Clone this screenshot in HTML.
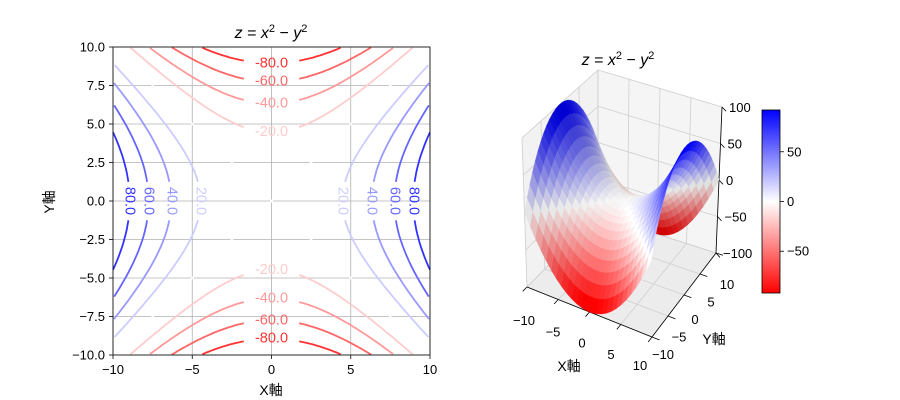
<!DOCTYPE html>
<html><head><meta charset="utf-8">
<style>
body{margin:0;background:#fff;}
svg{display:block;font-family:"Liberation Sans","Noto Sans CJK JP",sans-serif;}
</style></head>
<body>
<svg id="chart" width="900" height="400" viewBox="0 0 900 400">
<rect width="900" height="400" fill="#fff"/>
<g id="left"></g>
<g id="right"></g>
<g id="cbar"></g>
</svg>
<script>
// ---- data ----
const levels = [-80, -60, -40, -20, 0, 20, 40, 60, 80];
const xTicks2d = [-10, -5, 0, 5, 10];
const yTicks2d = [-10, -7.5, -5, -2.5, 0, 2.5, 5, 7.5, 10];
const xTicks3d = [-10, -5, 0, 5, 10];
const yTicks3d = [-10, -5, 0, 5, 10];
const zTicks3d = [-100, -50, 0, 50, 100];
const cbarTicks = [-50, 0, 50];
const gridN = 26;

const NS = "http://www.w3.org/2000/svg";
function mk(parent, tag, attrs, text) {
  const e = document.createElementNS(NS, tag);
  for (const k in attrs) e.setAttribute(k, attrs[k]);
  if (text !== undefined) e.textContent = text;
  parent.appendChild(e);
  return e;
}
function cmap(t) { // bwr reversed: 0 red, 0.5 white, 1 blue
  t = Math.max(0, Math.min(1, t));
  let r, g, b;
  if (t < 0.5) { r = 1; g = 2 * t; b = 2 * t; } else { r = 2 * (1 - t); g = 2 * (1 - t); b = 1; }
  return [r, g, b];
}
function rgb(c, s) { s = s || 1; return "rgb(" + c.map(v => Math.round(Math.min(1, v * s) * 255)).join(",") + ")"; }
function fmt(v) { return (v < 0 ? "\u2212" : "") + Math.abs(v); }

// ---- left: contour plot ----
const L = document.getElementById("left");
const X = x => 113 + (x + 10) * 317 / 20;
const Y = y => 355 - (y + 10) * 308 / 20;
xTicks2d.forEach(t => {
  const gl = mk(L, "line", {x1: X(t), x2: X(t), y1: Y(-10), y2: Y(10), stroke: "#b0b0b0", "stroke-width": 0.8});
  
  
  const tk = mk(L, "line", {x1: X(t), x2: X(t), y1: 355, y2: 359, stroke: "#000", "stroke-width": 0.8});
  
  
  const lb = mk(L, "text", {x: X(t), y: 374, "text-anchor": "middle", "font-size": 13}, fmt(t));
  
  
});
yTicks2d.forEach(t => {
  const gl = mk(L, "line", {x1: X(-10), x2: X(10), y1: Y(t), y2: Y(t), stroke: "#b0b0b0", "stroke-width": 0.8});
  
  
  const tk = mk(L, "line", {x1: 109, x2: 113, y1: Y(t), y2: Y(t), stroke: "#000", "stroke-width": 0.8});
  
  
  const lb = mk(L, "text", {x: 105, y: Y(t) + 4.5, "text-anchor": "end", "font-size": 13}, (t < 0 ? "\u2212" : "") + Math.abs(t).toFixed(1));
  
  
});
levels.forEach(c => {
  const col = rgb(cmap((c + 100) / 200));
  const segs = [];
  if (c > 0) {
    const gap = 1.25;
    [1, -1].forEach(sgn => {
      [[-10, -gap], [gap, 10]].forEach(r => {
        const pts = [];
        for (let i = 0; i <= 60; i++) {
          const y = r[0] + (r[1] - r[0]) * i / 60;
          const x = sgn * Math.sqrt(c + y * y);
          if (Math.abs(x) <= 10) pts.push(X(x).toFixed(1) + "," + Y(y).toFixed(1));
        }
        segs.push(pts);
      });
    });
  } else if (c < 0) {
    const gap = 1.75;
    [1, -1].forEach(sgn => {
      [[-10, -gap], [gap, 10]].forEach(r => {
        const pts = [];
        for (let i = 0; i <= 60; i++) {
          const x = r[0] + (r[1] - r[0]) * i / 60;
          const y = sgn * Math.sqrt(-c + x * x);
          if (Math.abs(y) <= 10) pts.push(X(x).toFixed(1) + "," + Y(y).toFixed(1));
        }
        segs.push(pts);
      });
    });
  } else {
    segs.push([X(-10) + "," + Y(-10), X(10) + "," + Y(10)]);
    segs.push([X(-10) + "," + Y(10), X(10) + "," + Y(-10)]);
  }
  segs.forEach(p => {
    if (p.length < 2) return;
    const pl = mk(L, "polyline", {points: p.join(" "), fill: "none", stroke: col, "stroke-width": 1.8});
    
    
  });
  if (c > 0) {
    [1, -1].forEach(sgn => {
      const px = X(sgn * Math.sqrt(c)), py = Y(0);
      const t = mk(L, "text", {x: px, y: py, "text-anchor": "middle", "dominant-baseline": "central", "font-size": 14.5, fill: col, transform: "rotate(90 " + px + " " + py + ")"}, c.toFixed(1));
      
      
    });
  } else if (c < 0) {
    [1, -1].forEach(sgn => {
      const px = X(0), py = Y(sgn * Math.sqrt(-c));
      const t = mk(L, "text", {x: px, y: py, "text-anchor": "middle", "dominant-baseline": "central", "font-size": 14.5, fill: col}, c.toFixed(1));
      
      
    });
  }
});
const frame = mk(L, "rect", {x: 113, y: 47, width: 317, height: 308, fill: "none", stroke: "#000", "stroke-width": 0.8});


const t1 = mk(L, "text", {x: 271, y: 38, "text-anchor": "middle", "font-size": 16});


t1.innerHTML = '<tspan font-style="italic">z</tspan> = <tspan font-style="italic">x</tspan><tspan font-size="11" dy="-6">2</tspan><tspan dy="6"> \u2212 </tspan><tspan font-style="italic">y</tspan><tspan font-size="11" dy="-6">2</tspan>';
const xl = mk(L, "text", {x: 271, y: 395, "text-anchor": "middle", "font-size": 14}, "X軸");


const yl = mk(L, "text", {x: 54, y: 202, "text-anchor": "middle", "font-size": 14, transform: "rotate(-90 54 202)"}, "Y軸");



// ---- right: 3D surface ----
const R = document.getElementById("right");
const C = {
  "000": [527, 287], "100": [652, 337], "010": [598, 215], "110": [716, 253],
  "001": [522, 138], "101": [650, 185], "011": [598, 70], "111": [722, 107]
};
function P(x, y, z) {
  const u = (x + 10) / 20, v = (y + 10) / 20, w = (z + 100) / 200;
  let sx = 0, sy = 0;
  for (const k in C) {
    const a = k[0] === "1" ? u : 1 - u, b = k[1] === "1" ? v : 1 - v, c = k[2] === "1" ? w : 1 - w;
    sx += a * b * c * C[k][0]; sy += a * b * c * C[k][1];
  }
  return [sx, sy];
}
function poly(pts, attrs, name) {
  attrs.points = pts.map(p => p[0].toFixed(1) + "," + p[1].toFixed(1)).join(" ");
  const e = mk(R, "polygon", attrs);
  
  
  return e;
}
function line(a, b, attrs, name) {
  attrs.x1 = a[0]; attrs.y1 = a[1]; attrs.x2 = b[0]; attrs.y2 = b[1];
  const e = mk(R, "line", attrs);
  
  
}
poly([P(-10,-10,-100), P(-10,10,-100), P(-10,10,100), P(-10,-10,100)], {fill: "#f2f2f2", stroke: "#f2f2f2"}, "left-pane");
poly([P(-10,10,-100), P(10,10,-100), P(10,10,100), P(-10,10,100)], {fill: "#f5f5f5", stroke: "#f5f5f5"}, "back-pane");
poly([P(-10,-10,-100), P(10,-10,-100), P(10,10,-100), P(-10,10,-100)], {fill: "#ececec", stroke: "#ececec"}, "floor-pane");
const gs = {stroke: "#cfcfcf", "stroke-width": 0.8};
xTicks3d.forEach(t => { line(P(t,-10,-100), P(t,10,-100), gs, "x-gridline-3d"); line(P(t,10,-100), P(t,10,100), gs, "x-gridline-3d"); });
yTicks3d.forEach(t => { line(P(-10,t,-100), P(10,t,-100), gs, "y-gridline-3d"); line(P(-10,t,-100), P(-10,t,100), gs, "y-gridline-3d"); });
zTicks3d.forEach(t => { line(P(-10,-10,t), P(-10,10,t), gs, "z-gridline-3d"); line(P(-10,10,t), P(10,10,t), gs, "z-gridline-3d"); });
line(P(-10,-10,-100), P(10,-10,-100), {stroke: "#000", "stroke-width": 0.8}, "x-axis-line");
line(P(10,-10,-100), P(10,10,-100), {stroke: "#000", "stroke-width": 0.8}, "y-axis-line");
line(P(10,10,-100), P(10,10,100), {stroke: "#000", "stroke-width": 0.8}, "z-axis-line");
xTicks3d.forEach(t => { const a = P(t,-10,-100), b = P(t,-11.2,-100); line(a, b, {stroke: "#000", "stroke-width": 0.8}, "x-tick-3d"); });
yTicks3d.forEach(t => { const a = P(10,t,-100), b = P(11.2,t,-100); line(a, b, {stroke: "#000", "stroke-width": 0.8}, "y-tick-3d"); });
zTicks3d.forEach(t => { const a = P(10,10,t), b = P(11,9.4,t); line(a, b, {stroke: "#000", "stroke-width": 0.8}, "z-tick-3d"); });
xTicks3d.forEach(t => { const p = P(t,-10,-100); const e = mk(R, "text", {x: p[0] - 3 - (t+10)*0.45, y: p[1] + 38 - (t+10)*0.25, "text-anchor": "middle", "font-size": 13}, fmt(t));   });
yTicks3d.forEach(t => { const p = P(10,t,-100); const e = mk(R, "text", {x: p[0] + 11, y: p[1] + 22 + (t+10)*0.7, "text-anchor": "middle", "font-size": 13}, fmt(t));   });
zTicks3d.forEach(t => { const p = P(10,10,t); const e = mk(R, "text", {x: p[0] + 7, y: p[1] + 5, "text-anchor": "start", "font-size": 13}, fmt(t));   });
const vals = [];
for (let i = 0; i < gridN; i++) vals.push(-10 + 20 * i / (gridN - 1));
const faces = [];
const lx = -0.45, ly = -0.55, lz = 0.7, ln = Math.hypot(lx, ly, lz);
for (let i = 0; i < gridN - 1; i++) for (let j = 0; j < gridN - 1; j++) {
  const xs = [vals[i], vals[i+1], vals[i+1], vals[i]];
  const ys = [vals[j], vals[j], vals[j+1], vals[j+1]];
  const zs = xs.map((x, k) => x * x - ys[k] * ys[k]);
  const xm = (vals[i] + vals[i+1]) / 2, ym = (vals[j] + vals[j+1]) / 2;
  const zm = zs.reduce((a, b) => a + b) / 4;
  const depth = 0.433 * xm / 20 - 0.75 * ym / 20 + 0.5 * zm / 200 * 0.75;
  const nx = -0.15 * xm, ny = 0.15 * ym, nz = 1, nn = Math.hypot(nx, ny, nz);
  const dot = Math.abs((nx * lx + ny * ly + nz * lz) / (nn * ln));
  faces.push({pts: xs.map((x, k) => P(x, ys[k], zs[k])), z: zm, depth: depth, shade: 0.82 + 0.2 * dot});
}
faces.sort((a, b) => a.depth - b.depth);
faces.forEach(f => {
  const col = rgb(cmap((f.z + 92) / 184), f.shade);
  poly(f.pts, {fill: col, stroke: col, "stroke-width": 0.4}, "surface-face");
});
const t2 = mk(R, "text", {x: 618, y: 65, "text-anchor": "middle", "font-size": 16});


t2.innerHTML = '<tspan font-style="italic">z</tspan> = <tspan font-style="italic">x</tspan><tspan font-size="11" dy="-6">2</tspan><tspan dy="6"> \u2212 </tspan><tspan font-style="italic">y</tspan><tspan font-size="11" dy="-6">2</tspan>';
const xl3 = mk(R, "text", {x: 569, y: 371, "text-anchor": "middle", "font-size": 14}, "X軸");


const yl3 = mk(R, "text", {x: 714, y: 344, "text-anchor": "middle", "font-size": 14}, "Y軸");



// ---- colorbar ----
const CB = document.getElementById("cbar");
const defs = mk(CB, "defs", {});
const lg = mk(defs, "linearGradient", {id: "cbg", x1: 0, y1: 0, x2: 0, y2: 1});
mk(lg, "stop", {offset: "0", "stop-color": "rgb(0,0,255)"});
mk(lg, "stop", {offset: "0.5", "stop-color": "rgb(255,255,255)"});
mk(lg, "stop", {offset: "1", "stop-color": "rgb(255,0,0)"});
const cbTop = 110, cbBot = 293, cbMax = 92, cbMin = -92;
const CY = v => cbBot - (v - cbMin) / (cbMax - cbMin) * (cbBot - cbTop);
const bar = mk(CB, "rect", {x: 762, y: cbTop, width: 18, height: cbBot - cbTop, fill: "url(#cbg)", stroke: "#000", "stroke-width": 0.8});


cbarTicks.forEach(t => {
  const tk = mk(CB, "line", {x1: 780, x2: 784, y1: CY(t), y2: CY(t), stroke: "#000", "stroke-width": 0.8});
  
  
  const lb = mk(CB, "text", {x: 787, y: CY(t) + 4.5, "font-size": 13}, fmt(t));
  
  
});
</script>
</body></html>
